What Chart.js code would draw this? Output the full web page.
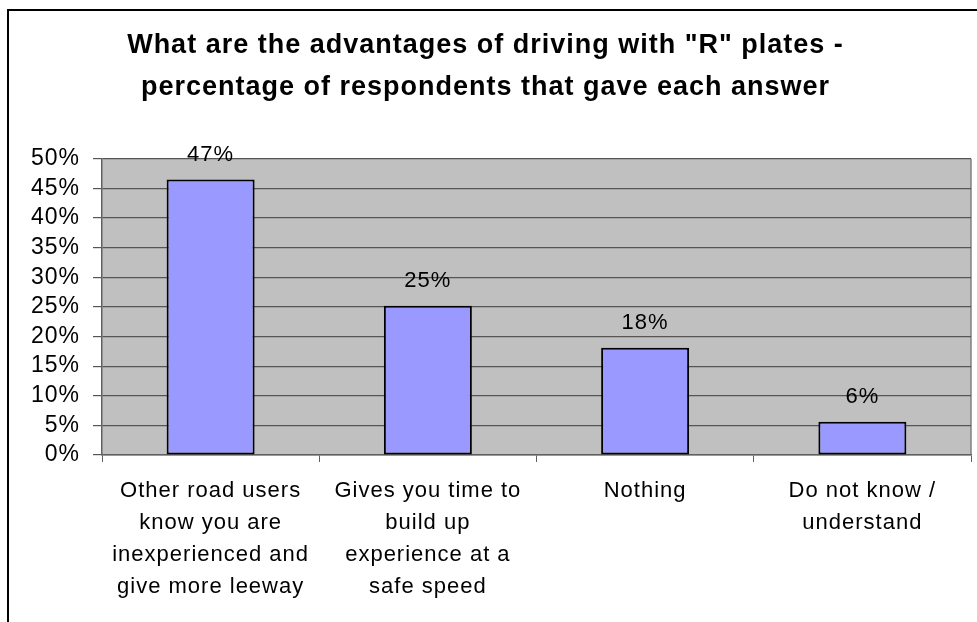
<!DOCTYPE html>
<html>
<head>
<meta charset="utf-8">
<script src="https://cdn.jsdelivr.net/npm/chart.js@4/dist/chart.umd.min.js"></script>
<style>
  html, body { margin: 0; padding: 0; background: #fff; overflow: hidden; }
  #frame { position: absolute; left: 7px; top: 9px; width: 1000px; height: 700px;
           border-top: 2px solid #000; border-left: 2px solid #000; }
  #wrap { position: absolute; left: 0; top: 0; width: 977px; height: 622px; }
</style>
</head>
<body>
<div id="frame"></div>
<div id="wrap"><canvas id="chart" width="977" height="622"></canvas></div>
<script>
// ----- data -----
const categories = [
  ['Other road users', 'know you are', 'inexperienced and', 'give more leeway'],
  ['Gives you time to', 'build up', 'experience at a', 'safe speed'],
  ['Nothing'],
  ['Do not know /', 'understand']
];
const values = [46.5, 25.2, 18.1, 5.6];
const valueLabels = ['47%', '25%', '18%', '6%'];
const yTicks = [0, 5, 10, 15, 20, 25, 30, 35, 40, 45, 50];

const FONT = '"Liberation Sans", Arial, sans-serif';

// grey plot area + right border, wider letter spacing like the original
const plotBg = {
  id: 'plotBg',
  beforeDraw(chart) {
    const a = chart.chartArea, c = chart.ctx;
    c.letterSpacing = '1px';
    c.save();
    c.fillStyle = '#C0C0C0';
    c.fillRect(a.left, a.top, a.right - a.left, a.bottom - a.top);
    c.strokeStyle = '#808080';
    c.lineWidth = 1.5;
    c.beginPath();
    c.moveTo(a.right, a.top);
    c.lineTo(a.right, a.bottom);
    c.stroke();
    c.restore();
  }
};

// value labels above bars
const barLabels = {
  id: 'barLabels',
  afterDatasetsDraw(chart) {
    const c = chart.ctx;
    const meta = chart.getDatasetMeta(0);
    c.save();
    c.font = '22px ' + FONT;
    c.fillStyle = '#000';
    c.textAlign = 'center';
    c.textBaseline = 'middle';
    meta.data.forEach((bar, i) => {
      c.fillText(valueLabels[i], bar.x, bar.y - 25);
    });
    c.restore();
  }
};

new Chart(document.getElementById('chart'), {
  type: 'bar',
  data: {
    labels: categories,
    datasets: [{
      data: values,
      backgroundColor: '#9999FF',
      borderColor: '#000',
      borderWidth: 2,
      borderSkipped: false,
      barPercentage: 0.405,
      categoryPercentage: 1
    }]
  },
  options: {
    responsive: false,
    animation: false,
    layout: { padding: { left: 0, right: 6, top: 0, bottom: 0 } },
    plugins: {
      legend: { display: false },
      tooltip: { enabled: false },
      title: {
        display: true,
        text: ['What are the advantages of driving with "R" plates -',
               'percentage of respondents that gave each answer'],
        color: '#000',
        font: { family: FONT, size: 27, weight: 'bold', lineHeight: 1.55 },
        padding: { top: 25, bottom: 50 }
      }
    },
    scales: {
      x: {
        offset: true,
        grid: { offset: true, drawOnChartArea: false, drawTicks: true, tickLength: 7, color: '#606060', lineWidth: 1 },
        border: { color: '#606060', width: 1.5 },
        ticks: {
          color: '#000',
          font: { family: FONT, size: 22, lineHeight: 1.455 },
          padding: 13,
          maxRotation: 0,
          autoSkip: false
        },
        afterFit(scale) { scale.height = 167; }
      },
      y: {
        min: 0,
        max: 50,
        afterBuildTicks(scale) { scale.ticks = yTicks.map(v => ({ value: v })); },
        grid: { color: '#555', lineWidth: 1.2, tickLength: 9 },
        border: { color: '#606060', width: 1.5 },
        ticks: {
          color: '#000',
          font: { family: FONT, size: 23 },
          padding: 13,
          autoSkip: false,
          callback: v => v + '%'
        },
        afterFit(scale) { scale.width = 102; }
      }
    }
  },
  plugins: [plotBg, barLabels]
});
</script>
</body>
</html>
